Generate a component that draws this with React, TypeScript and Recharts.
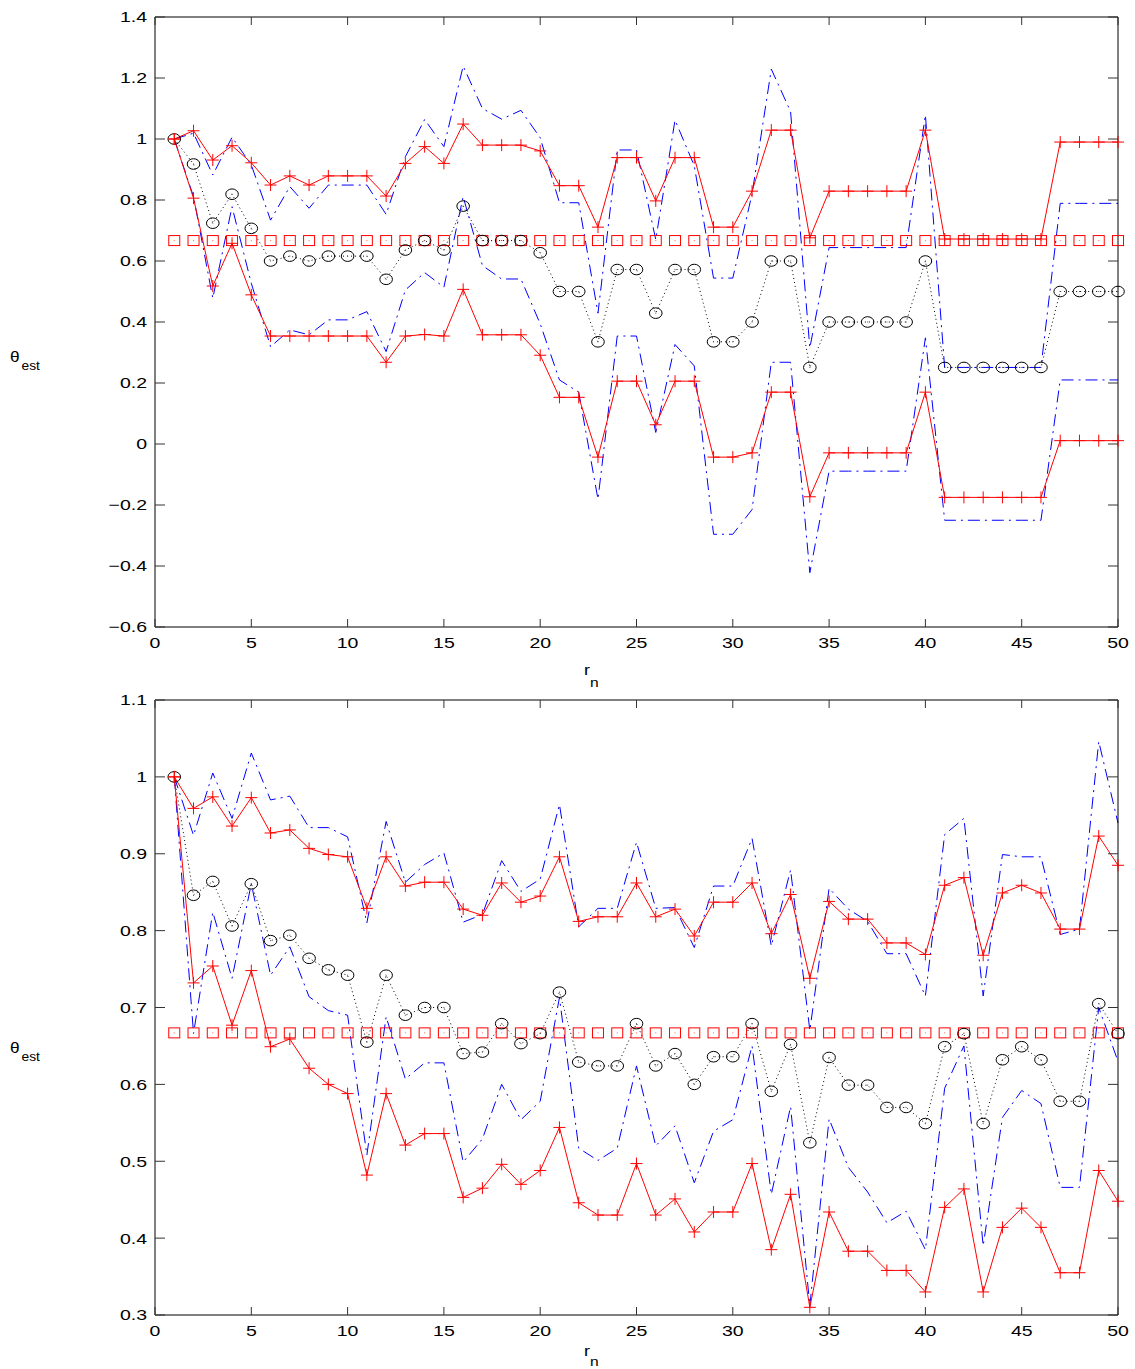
import { Line, LineChart, XAxis, YAxis } from 'recharts';

const R_N = [
  1, 2, 3, 4, 5, 6, 7, 8, 9, 10, 11, 12, 13, 14, 15, 16, 17, 18, 19, 20, 21, 22, 23, 24, 25,
  26, 27, 28, 29, 30, 31, 32, 33, 34, 35, 36, 37, 38, 39, 40, 41, 42, 43, 44, 45, 46, 47, 48, 49, 50,
];
const TRUE_THETA = 0.667;

const X_TICKS = [0, 5, 10, 15, 20, 25, 30, 35, 40, 45, 50];
const TOP_Y_TICKS = [-0.6, -0.4, -0.2, 0, 0.2, 0.4, 0.6, 0.8, 1, 1.2, 1.4];
const BOT_Y_TICKS = [0.3, 0.4, 0.5, 0.6, 0.7, 0.8, 0.9, 1, 1.1];

// top panel
const TOP_RED_UP = [
  1.0, 1.027, 0.931, 0.978, 0.922, 0.849, 0.879, 0.849, 0.879, 0.879,
  0.879, 0.813, 0.92, 0.975, 0.92, 1.049, 0.98, 0.98, 0.98, 0.961,
  0.847, 0.847, 0.711, 0.939, 0.939, 0.797, 0.939, 0.939, 0.711, 0.711,
  0.829, 1.029, 1.029, 0.676, 0.829, 0.829, 0.829, 0.829, 0.829, 1.029,
  0.672, 0.672, 0.672, 0.672, 0.672, 0.672, 0.99, 0.99, 0.99, 0.99,
];
const TOP_RED_LO = [
  1.0, 0.806, 0.518, 0.658, 0.489, 0.354, 0.354, 0.354, 0.354, 0.354,
  0.354, 0.268, 0.354, 0.359, 0.354, 0.507, 0.358, 0.358, 0.358, 0.291,
  0.153, 0.153, -0.043, 0.206, 0.206, 0.063, 0.206, 0.206, -0.043, -0.043,
  -0.029, 0.17, 0.17, -0.173, -0.029, -0.029, -0.029, -0.029, -0.029, 0.17,
  -0.175, -0.175, -0.175, -0.175, -0.175, -0.175, 0.011, 0.011, 0.011, 0.011,
];
const TOP_BLUE_UP = [
  1.0, 1.019, 0.882, 1.006, 0.915, 0.734, 0.844, 0.773, 0.849, 0.849,
  0.849, 0.753, 0.942, 1.064, 0.975, 1.239, 1.1, 1.065, 1.094, 1.004,
  0.791, 0.791, 0.429, 0.964, 0.964, 0.67, 1.062, 0.912, 0.544, 0.544,
  0.82, 1.229, 1.09, 0.315, 0.644, 0.644, 0.644, 0.644, 0.644, 1.079,
  0.251, 0.251, 0.251, 0.251, 0.251, 0.251, 0.789, 0.789, 0.789, 0.789,
];
const TOP_BLUE_LO = [
  1.0, 0.811, 0.478, 0.778, 0.527, 0.319, 0.374, 0.358, 0.407, 0.407,
  0.434, 0.303, 0.505, 0.562, 0.514, 0.811, 0.585, 0.541, 0.541, 0.394,
  0.21, 0.17, -0.181, 0.354, 0.354, 0.038, 0.326, 0.256, -0.296, -0.296,
  -0.215, 0.268, 0.268, -0.422, -0.089, -0.089, -0.089, -0.089, -0.089, 0.348,
  -0.25, -0.25, -0.25, -0.25, -0.25, -0.25, 0.21, 0.21, 0.21, 0.21,
];
const TOP_MEAN = [
  1.0, 0.918, 0.724, 0.819, 0.707, 0.6, 0.616, 0.6, 0.616, 0.616,
  0.616, 0.54, 0.636, 0.667, 0.636, 0.78, 0.667, 0.667, 0.667, 0.627,
  0.5, 0.5, 0.335, 0.572, 0.572, 0.429, 0.572, 0.572, 0.335, 0.335,
  0.4, 0.6, 0.6, 0.251, 0.4, 0.4, 0.4, 0.4, 0.4, 0.6,
  0.251, 0.251, 0.251, 0.251, 0.251, 0.251, 0.5, 0.5, 0.5, 0.5,
];

// bottom panel
const BOT_RED_UP = [
  1.0, 0.959, 0.974, 0.936, 0.973, 0.927, 0.931, 0.907, 0.899, 0.896,
  0.829, 0.896, 0.858, 0.863, 0.863, 0.828, 0.82, 0.862, 0.837, 0.845,
  0.896, 0.812, 0.818, 0.818, 0.862, 0.818, 0.828, 0.793, 0.837, 0.837,
  0.862, 0.796, 0.847, 0.738, 0.838, 0.815, 0.815, 0.784, 0.784, 0.769,
  0.859, 0.869, 0.768, 0.849, 0.859, 0.849, 0.802, 0.802, 0.923, 0.885,
];
const BOT_RED_LO = [
  1.0, 0.732, 0.754, 0.677, 0.748, 0.649, 0.659, 0.621, 0.6, 0.588,
  0.482, 0.588, 0.521, 0.536, 0.536, 0.453, 0.465, 0.496, 0.47, 0.488,
  0.544, 0.446, 0.43, 0.43, 0.497, 0.43, 0.451, 0.408, 0.434, 0.434,
  0.497, 0.385, 0.457, 0.31, 0.434, 0.383, 0.383, 0.358, 0.358, 0.33,
  0.44, 0.464, 0.33, 0.414, 0.439, 0.414, 0.355, 0.355, 0.488, 0.448,
];
const BOT_BLUE_UP = [
  1.0, 0.924, 1.005, 0.946, 1.031, 0.97, 0.975, 0.934, 0.934, 0.922,
  0.81, 0.942, 0.863, 0.886, 0.901, 0.811, 0.821, 0.891, 0.851, 0.867,
  0.964, 0.805, 0.829, 0.829, 0.915, 0.829, 0.83, 0.778, 0.858, 0.858,
  0.92, 0.78, 0.879, 0.67, 0.855, 0.828, 0.812, 0.77, 0.77, 0.715,
  0.925, 0.946, 0.715, 0.899, 0.896, 0.896, 0.795, 0.802, 1.046, 0.94,
];
const BOT_BLUE_LO = [
  1.0, 0.666, 0.824, 0.738, 0.861, 0.742, 0.779, 0.714, 0.696, 0.69,
  0.508, 0.688, 0.607, 0.628, 0.628, 0.499, 0.529, 0.6, 0.554, 0.578,
  0.713, 0.517, 0.501, 0.517, 0.624, 0.52, 0.546, 0.472, 0.539, 0.554,
  0.65, 0.457, 0.571, 0.312, 0.555, 0.492, 0.46, 0.42, 0.435, 0.385,
  0.595, 0.65, 0.39, 0.557, 0.592, 0.575, 0.466, 0.466, 0.7, 0.63,
];
const BOT_MEAN = [
  1.0, 0.846, 0.864, 0.806, 0.861, 0.787, 0.794, 0.764, 0.749, 0.742,
  0.655, 0.742, 0.69, 0.7, 0.7, 0.64, 0.642, 0.679, 0.653, 0.666,
  0.72, 0.629, 0.624, 0.624, 0.679, 0.624, 0.64, 0.6, 0.636, 0.636,
  0.679, 0.591, 0.652, 0.524, 0.635, 0.599, 0.599, 0.57, 0.57, 0.549,
  0.649, 0.666, 0.549, 0.632, 0.649, 0.632, 0.578, 0.578, 0.705, 0.666,
];

const FONT = '"Liberation Sans", Arial, Helvetica, sans-serif';
const STRETCH = 1.3;

function buildRows(redUp: number[], redLo: number[], blueUp: number[], blueLo: number[], mean: number[]) {
  return R_N.map((x, i) => ({
    x,
    redUp: redUp[i],
    redLo: redLo[i],
    blueUp: blueUp[i],
    blueLo: blueLo[i],
    mean: mean[i],
    truth: TRUE_THETA,
  }));
}

const topRows = buildRows(TOP_RED_UP, TOP_RED_LO, TOP_BLUE_UP, TOP_BLUE_LO, TOP_MEAN);
const botRows = buildRows(BOT_RED_UP, BOT_RED_LO, BOT_BLUE_UP, BOT_BLUE_LO, BOT_MEAN);

function fmtY(v: number) {
  return v < 0 ? '\u2212' + Math.abs(v) : String(v);
}

function LeftTick(props: any) {
  const { x, y, payload } = props;
  return (
    <g>
      <line x1={x + 8} x2={x + 18} y1={y} y2={y} stroke="#333" />
      <text
        transform={`translate(${x},${y}) scale(${STRETCH},1)`}
        textAnchor="end"
        dy="0.36em"
        fontSize={15}
        fontFamily={FONT}
        fill="#000"
      >
        {fmtY(payload.value)}
      </text>
    </g>
  );
}

function RightTick(props: any) {
  const { x, y } = props;
  return <line x1={x} x2={x - 10} y1={y} y2={y} stroke="#333" />;
}

function BottomTick(props: any) {
  const { x, y, payload } = props;
  return (
    <g>
      <line x1={x} x2={x} y1={y - 10} y2={y - 18} stroke="#333" />
      <text
        transform={`translate(${x},${y}) scale(${STRETCH},1)`}
        textAnchor="middle"
        dy="0.73em"
        fontSize={15}
        fontFamily={FONT}
        fill="#000"
      >
        {payload.value}
      </text>
    </g>
  );
}

function TopTick(props: any) {
  const { x, y } = props;
  return <line x1={x} x2={x} y1={y} y2={y + 8} stroke="#333" />;
}

function plusDot(props: any) {
  const { cx, cy, index } = props;
  return (
    <g key={`p${index}`}>
      <line x1={cx - 6} x2={cx + 6} y1={cy} y2={cy} stroke="#ff0000" />
      <line x1={cx} x2={cx} y1={cy - 6} y2={cy + 6} stroke="#ff0000" />
    </g>
  );
}

function circleDot(props: any) {
  const { cx, cy, index } = props;
  return (
    <g key={`c${index}`}>
      <ellipse cx={cx} cy={cy} rx={6.3} ry={5.3} fill="none" stroke="#000" />
      <rect x={cx - 0.5} y={cy - 0.5} width={1} height={1} fill="#555" />
    </g>
  );
}

function squareDot(props: any) {
  const { cx, cy, index } = props;
  return (
    <g key={`s${index}`}>
      <rect x={cx - 5.5} y={cy - 5} width={11} height={10} fill="none" stroke="#ff0000" />
      <rect x={cx - 0.5} y={cy - 0.5} width={1} height={1} fill="#ff6666" />
    </g>
  );
}

function Panel({ rows, yTicks, height, bottomAxis }: { rows: any[]; yTicks: number[]; height: number; bottomAxis: number }) {
  const domain: [number, number] = [yTicks[0], yTicks[yTicks.length - 1]];
  return (
    <LineChart width={1135} height={height} data={rows} margin={{ top: 0, right: 0, left: 0, bottom: 0 }}>
      <XAxis
        xAxisId="b"
        type="number"
        dataKey="x"
        domain={[0, 50]}
        ticks={X_TICKS}
        interval={0}
        height={bottomAxis}
        tickSize={0}
        tickMargin={10}
        tickLine={false}
        axisLine={{ stroke: '#000' }}
        tick={<BottomTick />}
      />
      <XAxis
        xAxisId="t"
        orientation="top"
        type="number"
        dataKey="x"
        domain={[0, 50]}
        ticks={X_TICKS}
        interval={0}
        height={17}
        tickSize={0}
        tickMargin={0}
        tickLine={false}
        axisLine={{ stroke: '#000' }}
        tick={<TopTick />}
      />
      <YAxis
        yAxisId="l"
        type="number"
        domain={domain}
        ticks={yTicks}
        interval={0}
        width={155}
        tickSize={0}
        tickMargin={8}
        tickLine={false}
        axisLine={{ stroke: '#000' }}
        tick={<LeftTick />}
      />
      <YAxis
        yAxisId="r"
        orientation="right"
        type="number"
        domain={domain}
        ticks={yTicks}
        interval={0}
        width={17}
        tickSize={0}
        tickMargin={0}
        tickLine={false}
        axisLine={{ stroke: '#000' }}
        tick={<RightTick />}
      />
      <Line
        xAxisId="t"
        yAxisId="r"
        dataKey="truth"
        stroke="none"
        dot={squareDot}
        isAnimationActive={false}
      />
      <Line
        xAxisId="b"
        yAxisId="l"
        dataKey="mean"
        stroke="#000"
        strokeWidth={1}
        strokeDasharray="1 3"
        dot={circleDot}
        isAnimationActive={false}
      />
      <Line
        xAxisId="b"
        yAxisId="l"
        dataKey="blueUp"
        stroke="#0000ff"
        strokeWidth={1}
        strokeDasharray="12 5 2 5"
        dot={false}
        isAnimationActive={false}
      />
      <Line
        xAxisId="b"
        yAxisId="l"
        dataKey="blueLo"
        stroke="#0000ff"
        strokeWidth={1}
        strokeDasharray="12 5 2 5"
        dot={false}
        isAnimationActive={false}
      />
      <Line
        xAxisId="b"
        yAxisId="l"
        dataKey="redUp"
        stroke="#ff0000"
        strokeWidth={1}
        dot={plusDot}
        isAnimationActive={false}
      />
      <Line
        xAxisId="b"
        yAxisId="l"
        dataKey="redLo"
        stroke="#ff0000"
        strokeWidth={1}
        dot={plusDot}
        isAnimationActive={false}
      />
    </LineChart>
  );
}

function AxisTitles() {
  const textStyle = { fontFamily: FONT, fill: '#000' };
  const theta = (y: number) => (
    <g transform={`translate(10,${y}) scale(1.15,1)`} style={textStyle}>
      <text x={0} y={0} fontSize={15}>θ</text>
      <text x={10} y={8} fontSize={12}>est</text>
    </g>
  );
  const rn = (y: number, sub: number) => (
    <g transform={`translate(584,${y}) scale(1.2,1)`} style={textStyle}>
      <text x={0} y={0} fontSize={15}>r</text>
      <text x={5} y={sub} fontSize={13}>n</text>
    </g>
  );
  return (
    <svg width={1135} height={1369} style={{ position: 'absolute', left: 0, top: 0, pointerEvents: 'none' }}>
      {theta(362)}
      {theta(1053)}
      {rn(675, 12)}
      {rn(1356, 10)}
    </svg>
  );
}

export default function App() {
  return (
    <div style={{ position: 'absolute', left: 0, top: 0, width: 1135, height: 1369, background: '#fff' }}>
      <div style={{ position: 'absolute', left: 0, top: 0 }}>
        <Panel rows={topRows} yTicks={TOP_Y_TICKS} height={690} bottomAxis={63} />
      </div>
      <div style={{ position: 'absolute', left: 0, top: 683 }}>
        <Panel rows={botRows} yTicks={BOT_Y_TICKS} height={686} bottomAxis={54} />
      </div>
      <AxisTitles />
    </div>
  );
}
